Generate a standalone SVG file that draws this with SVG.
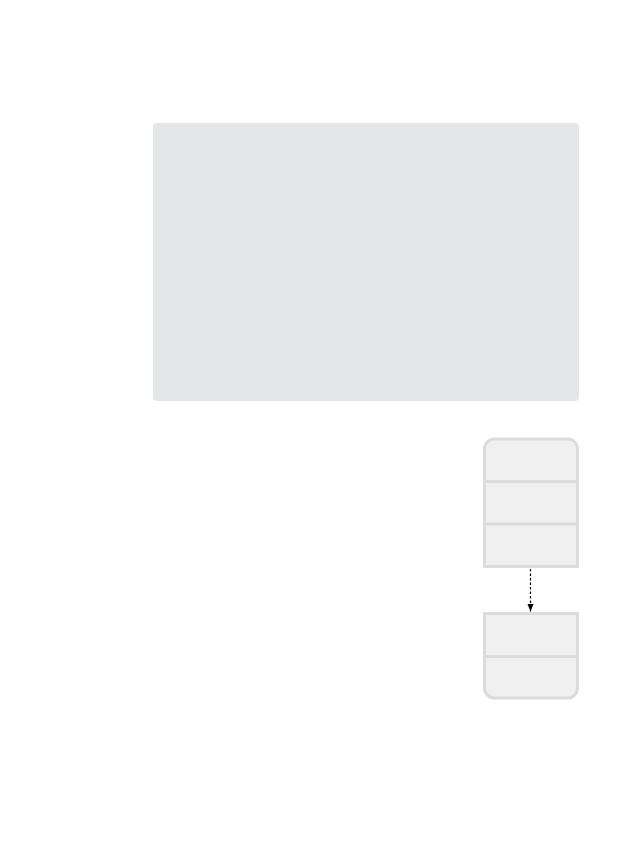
<svg xmlns="http://www.w3.org/2000/svg" width="644" height="851" viewBox="0 0 644 851">
<defs>
<style>
.box{fill:#f0f0f0;stroke:#dcdcdc;stroke-width:3}
.div{stroke:#dcdcdc;stroke-width:3}
.conn{stroke:#000;stroke-width:1.2;stroke-dasharray:2.5 2;fill:none}
</style>
<marker id="arr" viewBox="0 0 10 10" refX="10" refY="5" markerWidth="8" markerHeight="8" markerUnits="userSpaceOnUse" orient="auto"><path d="M0,1 L10,5 L0,9 Z" fill="#000"/></marker>
</defs>
<rect width="644" height="851" fill="#fff"/>
<g id="container">
<rect x="153" y="123" width="426" height="278" rx="4" fill="#e5e6e8"/>
</g>
<g id="node1">
<path class="box" d="M484.5,566.5 V449 A10,10 0 0 1 494.5,439 H567.5 A10,10 0 0 1 577.5,449 V566.5 Z"/>
<line class="div" x1="484.5" y1="481.5" x2="577.5" y2="481.5"/>
<line class="div" x1="484.5" y1="524" x2="577.5" y2="524"/>
</g>
<g id="node2">
<path class="box" d="M484.5,613.5 H577.5 V688 A10,10 0 0 1 567.5,698 H494.5 A10,10 0 0 1 484.5,688 Z"/>
<line class="div" x1="484.5" y1="656.5" x2="577.5" y2="656.5"/>
</g>
<g id="connectors">
<line class="conn" x1="530.5" y1="569" x2="530.5" y2="611.5" marker-end="url(#arr)"/>
</g>
</svg>
